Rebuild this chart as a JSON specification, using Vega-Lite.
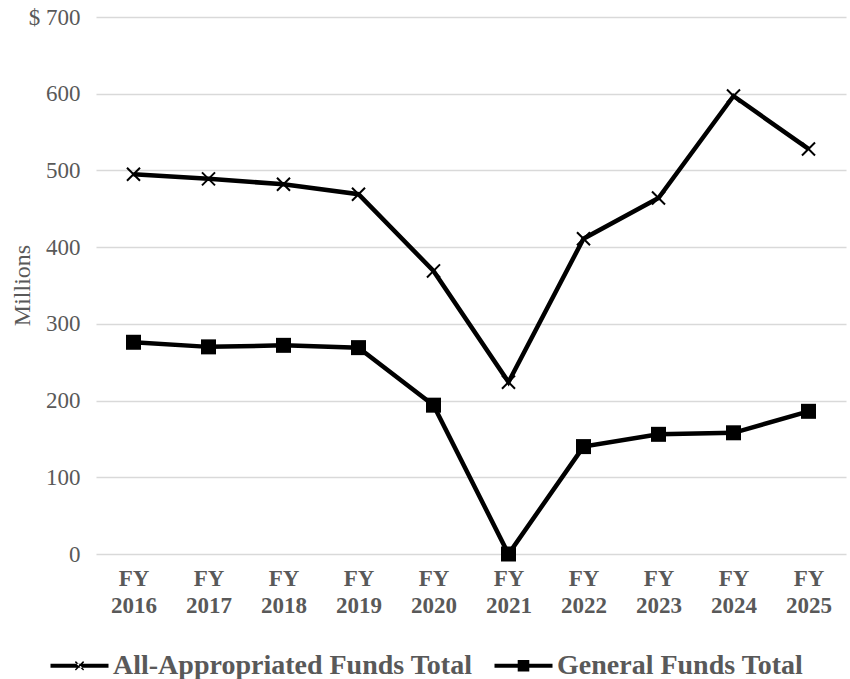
{
  "$schema": "https://vega.github.io/schema/vega-lite/v6.json",
  "autosize": {"type": "none"},
  "width": 750,
  "height": 537,
  "padding": {"left": 96, "top": 17, "right": 4, "bottom": 125},
  "background": "white",
  "config": {
    "view": {"stroke": null},
    "font": "Liberation Serif"
  },
  "data": {
    "values": [
      {"year": "2016", "series": "All-Appropriated Funds Total", "value": 495},
      {"year": "2017", "series": "All-Appropriated Funds Total", "value": 489},
      {"year": "2018", "series": "All-Appropriated Funds Total", "value": 482},
      {"year": "2019", "series": "All-Appropriated Funds Total", "value": 469},
      {"year": "2020", "series": "All-Appropriated Funds Total", "value": 369},
      {"year": "2021", "series": "All-Appropriated Funds Total", "value": 224},
      {"year": "2022", "series": "All-Appropriated Funds Total", "value": 411},
      {"year": "2023", "series": "All-Appropriated Funds Total", "value": 464},
      {"year": "2024", "series": "All-Appropriated Funds Total", "value": 597},
      {"year": "2025", "series": "All-Appropriated Funds Total", "value": 528},
      {"year": "2016", "series": "General Funds Total", "value": 276},
      {"year": "2017", "series": "General Funds Total", "value": 270},
      {"year": "2018", "series": "General Funds Total", "value": 272},
      {"year": "2019", "series": "General Funds Total", "value": 269},
      {"year": "2020", "series": "General Funds Total", "value": 194},
      {"year": "2021", "series": "General Funds Total", "value": 0},
      {"year": "2022", "series": "General Funds Total", "value": 140},
      {"year": "2023", "series": "General Funds Total", "value": 156},
      {"year": "2024", "series": "General Funds Total", "value": 158},
      {"year": "2025", "series": "General Funds Total", "value": 186}
    ]
  },
  "encoding": {
    "x": {
      "field": "year", "type": "ordinal",
      "scale": {"type": "point", "padding": 0.5},
      "axis": {
        "title": null, "domain": false, "ticks": false, "grid": false,
        "labelAngle": 0, "labelFont": "Liberation Serif", "labelFontSize": 23,
        "labelFontWeight": "bold", "labelColor": "#595959", "labelPadding": 13,
        "labelLineHeight": 27,
        "labelExpr": "['FY', datum.label]"
      }
    },
    "y": {
      "field": "value", "type": "quantitative",
      "scale": {"domain": [0, 700]},
      "axis": {
        "values": [0, 100, 200, 300, 400, 500, 600, 700],
        "title": "Millions", "titleFont": "Liberation Serif", "titleFontSize": 24,
        "titleFontWeight": "normal", "titleColor": "#595959",
        "titleX": -74, "titleY": 268, "titleAngle": -90, "titleAlign": "center", "titleBaseline": "middle",
        "domain": false, "ticks": false, "gridColor": "#d9d9d9", "gridWidth": 1.5,
        "labelFont": "Liberation Serif", "labelFontSize": 23, "labelColor": "#595959",
        "labelPadding": 16,
        "labelExpr": "datum.value == 700 ? '$ 700' : datum.label"
      }
    }
  },
  "layer": [
    {
      "mark": {"type": "line", "strokeWidth": 4.5, "color": "black"},
      "encoding": {"detail": {"field": "series"}}
    },
    {
      "mark": {"type": "point", "filled": false, "strokeWidth": 2, "color": "black", "size": 170, "opacity": 1},
      "transform": [{"filter": "datum.series == 'All-Appropriated Funds Total'"}],
      "encoding": {"shape": {"value": "M-1,-1L1,1M-1,1L1,-1"}}
    },
    {
      "mark": {"type": "point", "filled": true, "color": "black", "size": 225, "shape": "square", "opacity": 1},
      "transform": [{"filter": "datum.series == 'General Funds Total'"}]
    },
    {
      "mark": {"type": "point", "opacity": 0, "color": "black", "filled": true},
      "encoding": {
        "shape": {
          "field": "series", "type": "nominal",
          "scale": {
            "domain": ["All-Appropriated Funds Total", "General Funds Total"],
            "range": ["M-1,-0.07H1V0.07H-1ZM-0.16,-0.125L0.125,0.16L0.16,0.125L-0.125,-0.16ZM-0.16,0.125L0.125,-0.16L0.16,-0.125L-0.125,0.16Z", "M-1,-0.07H1V0.07H-1ZM-0.2,-0.2H0.2V0.2H-0.2Z"]
          },
          "legend": {
            "title": null, "orient": "none", "direction": "horizontal",
            "legendX": -46, "legendY": 619, "padding": 0,
            "labelFont": "Liberation Serif", "labelFontSize": 28, "labelFontWeight": "bold",
            "labelColor": "#595959", "labelLimit": 600, "labelOffset": 4,
            "symbolSize": 3364, "columnPadding": 20,
            "symbolOpacity": 1, "symbolFillColor": "black", "symbolStrokeColor": "black", "symbolStrokeWidth": 0.5
          }
        }
      }
    }
  ]
}
